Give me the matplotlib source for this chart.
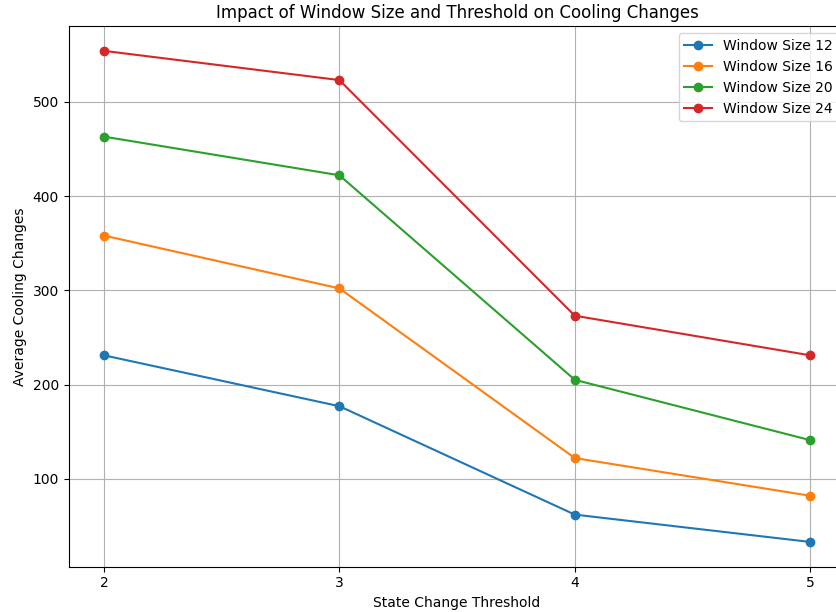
import numpy as np
import matplotlib
matplotlib.use("Agg")
import matplotlib.pyplot as plt

thresholds = [2, 3, 4, 5]
window_sizes = [12, 16, 20, 24]
cooling_ws12 = [231, 177, 62, 33]
cooling_ws16 = [358, 302, 122, 82]
cooling_ws20 = [463, 422, 205, 141]
cooling_ws24 = [554, 523, 273, 231]

series = [cooling_ws12, cooling_ws16, cooling_ws20, cooling_ws24]

fig = plt.figure(figsize=(8.37, 6.12), dpi=100)
# axes run slightly past the right edge, like the cropped original
ax = fig.add_axes([68.7 / 837, 45.5 / 612, (845.5 - 68.7) / 837, (566.5 - 26.3) / 612])

for ws, values in zip(window_sizes, series):
    ax.plot(thresholds, values, marker="o", label="Window Size " + str(ws))

ax.set_xticks(thresholds)
ax.set_xlabel("State Change Threshold")
ax.set_ylabel("Average Cooling Changes")
ax.set_title("Impact of Window Size and Threshold on Cooling Changes")
ax.grid(True)
ax.legend(loc="upper right")

fig.savefig("out.png", dpi=100)
